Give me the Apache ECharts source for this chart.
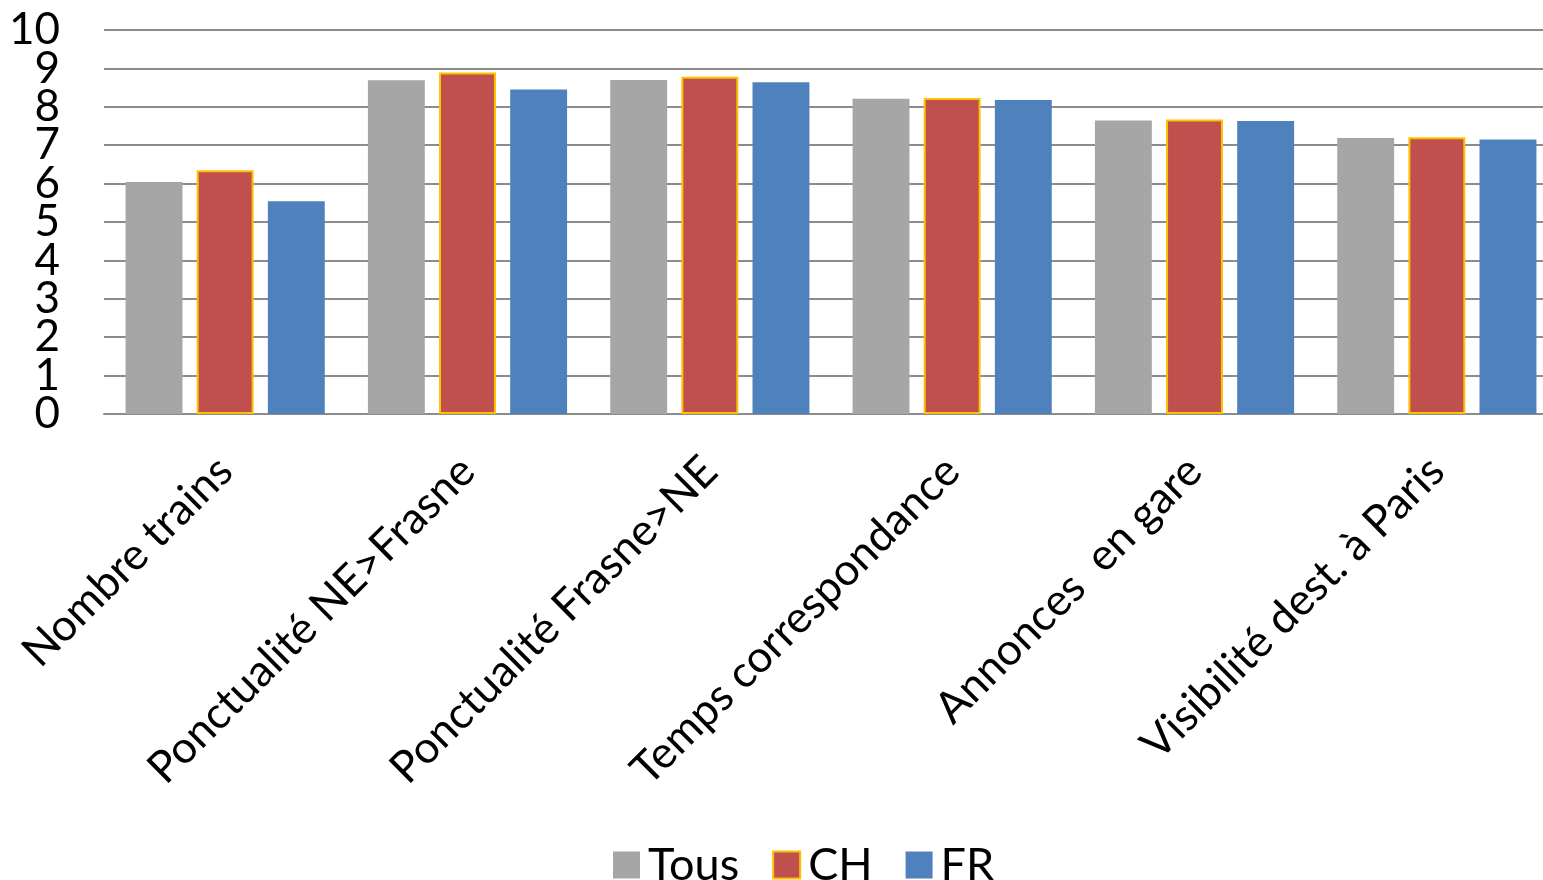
<!DOCTYPE html>
<html>
<head>
<meta charset="utf-8">
<script src="https://cdn.jsdelivr.net/npm/echarts@6/dist/echarts.min.js"></script>
<style>
html,body{margin:0;padding:0;background:#fff;overflow:hidden;width:1543px;height:880px;}
#chart{width:1558px;height:880px;}
</style>
</head>
<body>
<div id="chart"></div>
<script>
const categories = ["Nombre trains", "Ponctualité NE>Frasne", "Ponctualité Frasne>NE", "Temps correspondance", "Annonces  en gare", "Visibilité dest. à Paris"];
const tous = [6.04, 8.69, 8.70, 8.21, 7.64, 7.19];
const ch = [6.35, 8.89, 8.78, 8.23, 7.67, 7.21];
const fr = [5.54, 8.45, 8.64, 8.18, 7.63, 7.15];
const yTicks = [0, 1, 2, 3, 4, 5, 6, 7, 8, 9, 10];

const FONT = 'Lato';
const yMin = yTicks[0];
const yMax = yTicks[yTicks.length - 1];
const labelBase = { fontSize: 44, color: '#000', margin: 44, fontFamily: FONT };
const chart = echarts.init(document.getElementById('chart'));
chart.setOption({
  animation: false,
  backgroundColor: '#fff',
  textStyle: { fontFamily: FONT },
  grid: { left: 104, right: 0, top: 30, bottom: 466, containLabel: false },
  legend: {
    top: 833,
    left: 608,
    icon: 'rect',
    itemWidth: 27,
    itemHeight: 27,
    itemGap: 33,
    textStyle: { fontFamily: FONT, fontSize: 45, lineHeight: 54, color: '#000', padding: [0, 0, 0, 3] },
    data: ['Tous', 'CH', 'FR']
  },
  xAxis: {
    type: 'category',
    data: categories,
    axisLine: { lineStyle: { color: '#8c8c8c', width: 2 } },
    axisTick: { show: false },
    axisLabel: { interval: 0, rotate: 45, fontSize: 44, color: '#000', margin: 50, fontFamily: FONT }
  },
  yAxis: [
    {
      type: 'value',
      min: yMin, max: yMax, interval: 1,
      axisLine: { show: false },
      axisTick: { show: false },
      splitLine: { lineStyle: { color: '#8c8c8c', width: 2 } },
      axisLabel: Object.assign({}, labelBase, { showMinLabel: false, showMaxLabel: false })
    },
    {
      type: 'value',
      position: 'left',
      min: yMin, max: yMax, interval: 1,
      axisLine: { show: false },
      axisTick: { show: false },
      splitLine: { show: false },
      axisLabel: Object.assign({}, labelBase, {
        showMinLabel: true, showMaxLabel: true,
        formatter: function (v) { return (v === yMin || v === yMax) ? String(v) : ''; }
      })
    }
  ],
  series: [
    { name: 'Tous', type: 'bar', data: tous, barGap: '25%', barCategoryGap: '17.8%', itemStyle: { color: '#a6a6a6' } },
    { name: 'CH', type: 'bar', data: ch, barGap: '25%', barCategoryGap: '17.8%', itemStyle: { color: '#c0504d', borderColor: '#ffc000', borderWidth: 2 } },
    { name: 'FR', type: 'bar', data: fr, barGap: '25%', barCategoryGap: '17.8%', itemStyle: { color: '#4f81bd' } }
  ]
});
</script>
</body>
</html>
